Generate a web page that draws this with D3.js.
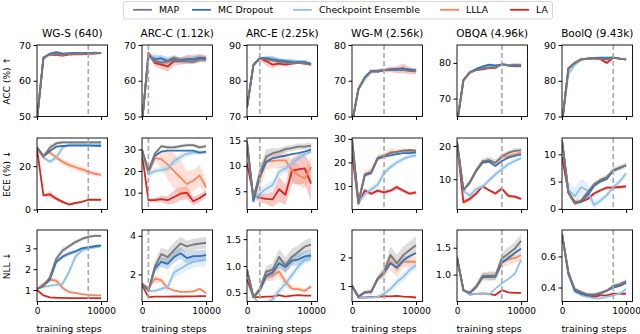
<!DOCTYPE html>
<html>
<head>
<meta charset="utf-8">
<script src="https://cdn.jsdelivr.net/npm/d3@7"></script>
<style>
  body { margin: 0; background: #fff; }
  svg text { font-family: "DejaVu Sans", sans-serif; fill: #000; }
</style>
</head>
<body>
<svg id="chart" width="640" height="334"></svg>
<script>
// steps on the x axis, shared by every panel
var STEPS = [0, 1000, 2000, 3000, 4000, 5000, 6000, 7000, 8000, 9000, 10000];
var TITLES = ["WG-S (640)", "ARC-C (1.12k)", "ARC-E (2.25k)", "WG-M (2.56k)", "OBQA (4.96k)", "BoolQ (9.43k)"];
var DASH_AT = [8000, 1000, 2000, 5000, 7000, 8000];
var METHODS = ["MAP", "MC Dropout", "Checkpoint Ensemble", "LLLA", "LA"];
var ROW_LABELS = ["ACC (%) \u2191", "ECE (%) \u2193", "NLL \u2193"];

var YLIM_ACC = [[50, 70], [50, 70], [70, 90], [60, 80], [65, 85], [70, 90]];
var YLIM_ECE = [[0, 33], [2.2, 35.3], [1.4, 15.5], [0, 30.4], [0.9, 22.4], [-0.13, 13]];
var YLIM_NLL = [[0.45, 3.88], [0.6, 4.3], [0.34, 1.67], [0.46, 2.96], [0.5, 1.83], [0.31, 0.77]];
var YTICKS_ACC = [[50, 60, 70], [50, 60, 70], [70, 80, 90], [60, 70, 80], [70, 80], [70, 80, 90]];
var YTICKS_ECE = [[0, 20], [10, 20, 30], [5, 10, 15], [10, 20, 30], [10, 20], [0, 5, 10]];
var YTICKS_NLL = [["1", "2", "3"], ["2", "4"], ["0.5", "1.0", "1.5"], ["1", "2"], ["1.0", "1.5"], ["0.4", "0.6"]];

// each panel: [MAP, MC Dropout, Checkpoint Ensemble, LLLA, LA]
var ACC_WGS = [
  [49, 66.5, 67.5, 67.5, 67.3, 67.5, 67.6, 67.6, 67.7, 67.8, 67.8],
  [49, 66.3, 67.6, 68.0, 67.6, 67.7, 67.8, 67.7, 67.8, 67.8, 67.7],
  [49, 66.0, 67.5, 67.8, 67.5, 67.6, 67.7, 67.7, 67.8, 67.9, 67.8],
  [49, 66.5, 67.5, 67.4, 67.3, 67.5, 67.6, 67.6, 67.7, 67.8, 67.8],
  [49, 66.5, 67.3, 67.2, 67.0, 67.3, 67.4, 67.4, 67.5, 67.6, 67.7]
];
var ACC_ARCC = [
  [48, 67.3, 65.5, 65.0, 65.5, 66.5, 65.5, 65.5, 65.3, 66.0, 66.0],
  [48, 67.0, 66.0, 66.3, 65.5, 66.0, 65.8, 66.0, 66.0, 66.5, 66.0],
  [48, 66.5, 66.5, 65.5, 66.0, 65.8, 66.0, 65.5, 66.0, 66.0, 66.2],
  [48, 67.3, 65.5, 65.0, 65.3, 66.3, 65.5, 65.5, 65.5, 66.0, 66.0],
  [48, 67.8, 65.0, 64.5, 64.0, 65.5, 65.5, 66.0, 66.0, 66.3, 66.3]
];
var ACC_ARCE = [
  [72.5, 84.4, 86.3, 86.0, 85.7, 85.3, 85.0, 85.0, 85.0, 85.0, 84.5],
  [72.5, 84.5, 86.4, 86.3, 86.0, 85.7, 85.5, 85.3, 85.2, 85.2, 84.7],
  [72.5, 84.2, 86.2, 86.5, 86.5, 86.0, 85.8, 85.7, 85.5, 85.5, 84.8],
  [72.5, 84.4, 86.3, 86.0, 85.6, 85.2, 85.0, 85.0, 85.0, 85.0, 84.5],
  [72.5, 84.4, 86.3, 85.5, 84.5, 84.8, 84.5, 84.8, 85.0, 84.8, 84.5]
];
var ACC_WGM = [
  [58, 67.7, 70.8, 72.7, 72.5, 73.0, 73.0, 73.0, 73.0, 72.8, 72.8],
  [58, 67.7, 71.0, 72.8, 72.6, 73.0, 73.2, 73.4, 73.4, 73.2, 73.0],
  [58, 67.5, 70.5, 72.5, 72.8, 73.0, 73.0, 73.0, 73.2, 73.0, 73.0],
  [58, 67.7, 70.8, 72.6, 72.6, 73.0, 73.0, 73.1, 73.2, 72.9, 72.8],
  [58, 67.7, 70.8, 72.5, 72.8, 73.0, 73.2, 73.0, 73.5, 72.8, 72.6]
];
var ACC_OBQA = [
  [63, 75.2, 77.3, 78.0, 78.5, 78.7, 78.8, 79.6, 79.2, 79.0, 79.0],
  [63, 75.2, 77.4, 78.3, 79.0, 79.5, 79.3, 79.5, 79.3, 79.3, 79.2],
  [63, 75.0, 77.3, 78.2, 78.8, 79.2, 79.2, 79.4, 79.4, 79.3, 79.3],
  [63, 75.2, 77.3, 78.0, 78.5, 78.7, 78.8, 79.6, 79.3, 79.2, 79.2],
  [63, 75.0, 77.2, 78.0, 78.2, 78.5, 78.6, 79.7, 79.4, 79.5, 79.5]
];
var ACC_BOOLQ = [
  [68, 83.5, 85.0, 86.0, 86.2, 86.3, 86.2, 86.0, 86.5, 86.2, 86.0],
  [68, 83.3, 85.0, 86.0, 86.2, 86.4, 86.4, 86.3, 86.5, 86.2, 86.0],
  [68, 82.0, 84.5, 85.8, 86.2, 86.4, 86.5, 86.5, 86.5, 86.2, 86.0],
  [68, 83.5, 85.0, 86.0, 86.2, 86.3, 86.2, 86.0, 86.5, 86.2, 86.0],
  [68, 83.5, 85.0, 86.0, 86.2, 86.3, 86.0, 85.0, 86.5, 86.2, 86.0]
];

var ECE_WGS = [
  [28.7, 24.3, 28.5, 30.5, 31.0, 31.0, 31.0, 31.0, 31.0, 31.0, 31.0],
  [28.7, 24.5, 27.0, 29.0, 29.3, 29.5, 29.5, 29.5, 29.5, 29.4, 29.3],
  [28.7, 24.0, 22.0, 24.0, 28.5, 30.0, 30.0, 30.0, 30.0, 30.0, 30.0],
  [28.7, 25.0, 26.3, 24.0, 22.0, 20.5, 19.5, 18.5, 17.5, 16.5, 16.0],
  [28.0, 6.5, 7.0, 5.0, 3.5, 2.3, 3.0, 3.5, 4.5, 4.5, 4.5]
];
var ECE_ARCC = [
  [30, 20.0, 28.0, 31.5, 31.0, 31.0, 31.5, 32.0, 32.0, 31.0, 31.5],
  [30, 20.0, 27.0, 29.0, 29.5, 29.5, 29.5, 29.5, 29.5, 28.5, 29.0],
  [29, 18.5, 20.0, 20.5, 21.0, 24.5, 26.5, 28.0, 28.5, 28.5, 28.5],
  [29, 19.0, 26.0, 25.5, 23.0, 20.0, 17.0, 14.0, 15.5, 18.0, 12.5],
  [28, 6.5, 6.5, 7.0, 6.5, 8.0, 9.5, 10.0, 6.0, 7.5, 9.5]
];
var ECE_ARCE = [
  [14.8, 3.8, 8.5, 11.8, 12.5, 12.8, 13.3, 13.5, 13.8, 13.8, 14.0],
  [14.8, 3.0, 8.0, 10.8, 11.5, 11.8, 12.0, 12.3, 12.5, 12.8, 13.2],
  [14.5, 3.5, 4.5, 5.5, 6.2, 8.8, 9.5, 10.5, 11.5, 12.3, 12.8],
  [14.5, 3.5, 7.5, 10.8, 11.0, 11.1, 11.1, 9.1, 8.2, 7.5, 9.8],
  [10.5, 4.3, 3.7, 3.5, 3.4, 5.4, 4.3, 9.0, 9.3, 9.5, 6.5]
];
var ECE_WGM = [
  [30, 3.0, 15.0, 16.0, 22.0, 23.0, 24.0, 24.5, 25.0, 25.3, 25.0],
  [30, 3.0, 14.5, 15.5, 21.5, 22.5, 23.0, 23.5, 24.0, 24.0, 24.3],
  [30, 3.0, 6.5, 8.5, 10.5, 15.5, 18.0, 20.0, 21.5, 22.5, 23.0],
  [30, 3.0, 15.0, 16.0, 22.0, 22.5, 24.5, 24.5, 25.0, 24.5, 24.5],
  [24, 2.4, 8.1, 6.7, 8.0, 7.3, 8.0, 9.5, 8.0, 6.7, 7.3]
];
var ECE_OBQA = [
  [21.3, 6.7, 9.2, 12.7, 15.4, 15.8, 14.9, 16.9, 17.9, 18.5, 18.7],
  [21.3, 6.7, 9.0, 12.5, 15.0, 15.3, 14.0, 15.5, 16.5, 17.0, 17.5],
  [21.3, 6.5, 5.1, 7.0, 7.7, 9.7, 11.5, 13.0, 14.5, 15.5, 16.4],
  [21.3, 6.7, 9.0, 12.5, 15.5, 15.5, 15.0, 16.5, 17.0, 17.5, 18.0],
  [20.8, 3.1, 4.1, 5.7, 7.9, 6.7, 5.7, 7.2, 5.0, 4.8, 4.1]
];
var ECE_BOOLQ = [
  [12.6, 3.0, 1.0, 1.5, 3.0, 4.5, 5.3, 5.8, 7.1, 7.5, 8.0],
  [12.6, 3.0, 1.0, 1.3, 2.5, 4.2, 5.0, 5.5, 7.0, 7.5, 8.0],
  [12.6, 3.5, 2.3, 4.0, 3.3, 0.7, 1.5, 2.5, 4.0, 5.0, 6.5],
  [12.6, 3.0, 1.0, 1.5, 3.0, 4.5, 5.3, 5.8, 7.0, 7.5, 8.0],
  [9.5, 3.0, 1.2, 1.3, 1.8, 2.8, 3.4, 3.9, 3.9, 4.0, 4.1]
];

var NLL_WGS = [
  [1.05, 1.2, 1.6, 2.5, 2.9, 3.1, 3.3, 3.45, 3.55, 3.6, 3.6],
  [1.05, 1.2, 1.5, 2.35, 2.6, 2.75, 2.85, 3.0, 3.05, 3.1, 3.14],
  [1.05, 1.15, 1.2, 1.25, 1.3, 1.87, 2.6, 2.9, 3.0, 3.05, 3.1],
  [1.05, 1.3, 1.5, 1.45, 1.1, 0.9, 0.86, 0.8, 0.77, 0.75, 0.74],
  [1.0, 0.74, 0.65, 0.63, 0.62, 0.61, 0.61, 0.61, 0.61, 0.61, 0.61]
];
var NLL_ARCC = [
  [1.52, 1.16, 2.4, 3.05, 2.9, 3.26, 3.6, 3.45, 3.55, 3.6, 3.64],
  [1.52, 1.16, 2.3, 2.65, 2.55, 2.9, 3.1, 2.85, 2.95, 2.95, 3.0],
  [1.52, 1.15, 1.15, 1.25, 1.35, 2.1, 2.3, 2.5, 2.65, 2.7, 2.75],
  [1.52, 1.3, 1.78, 1.7, 1.3, 1.17, 1.1, 1.1, 1.12, 1.26, 1.03],
  [1.45, 0.83, 0.85, 0.85, 0.85, 0.86, 0.86, 0.87, 0.87, 0.88, 0.88]
];
var NLL_ARCE = [
  [0.93, 0.42, 0.58, 0.9, 0.93, 1.17, 1.01, 1.17, 1.26, 1.36, 1.4],
  [0.93, 0.42, 0.55, 0.82, 0.88, 1.05, 0.98, 1.1, 1.12, 1.18, 1.2],
  [0.93, 0.42, 0.3, 0.3, 0.38, 0.54, 0.67, 0.83, 0.99, 1.11, 1.18],
  [0.93, 0.42, 0.55, 0.8, 0.82, 0.9, 0.7, 0.58, 0.57, 0.54, 0.62],
  [0.75, 0.42, 0.42, 0.43, 0.43, 0.46, 0.43, 0.45, 0.46, 0.45, 0.45]
];
var NLL_WGM = [
  [1.02, 0.63, 0.79, 0.8, 1.26, 1.49, 2.08, 1.79, 2.08, 2.26, 2.43],
  [1.02, 0.63, 0.77, 0.8, 1.24, 1.45, 1.8, 1.65, 1.9, 2.05, 2.15],
  [1.02, 0.62, 0.6, 0.6, 0.62, 0.73, 0.9, 1.14, 1.32, 1.56, 1.73],
  [1.02, 0.63, 0.79, 0.8, 1.26, 1.49, 1.85, 1.62, 1.85, 1.85, 1.85],
  [1.0, 0.6, 0.6, 0.62, 0.62, 0.65, 0.64, 0.66, 0.63, 0.62, 0.6]
];
var NLL_OBQA = [
  [1.33, 0.71, 0.66, 0.78, 0.98, 0.98, 0.98, 1.3, 1.39, 1.48, 1.63],
  [1.33, 0.71, 0.66, 0.77, 0.95, 0.96, 0.96, 1.22, 1.31, 1.4, 1.48],
  [1.33, 0.71, 0.63, 0.64, 0.65, 0.63, 0.74, 0.84, 0.92, 1.01, 1.28],
  [1.33, 0.71, 0.66, 0.77, 0.96, 0.96, 0.97, 1.22, 1.28, 1.31, 1.36],
  [1.3, 0.72, 0.63, 0.64, 0.65, 0.64, 0.62, 0.71, 0.67, 0.66, 0.66]
];
var NLL_BOOLQ = [
  [0.745, 0.49, 0.39, 0.37, 0.355, 0.355, 0.365, 0.38, 0.41, 0.42, 0.44],
  [0.745, 0.49, 0.38, 0.36, 0.35, 0.35, 0.36, 0.38, 0.4, 0.41, 0.43],
  [0.745, 0.48, 0.37, 0.35, 0.34, 0.33, 0.33, 0.34, 0.35, 0.36, 0.39],
  [0.745, 0.49, 0.39, 0.37, 0.355, 0.35, 0.365, 0.38, 0.405, 0.42, 0.44],
  [0.745, 0.5, 0.38, 0.36, 0.34, 0.34, 0.35, 0.35, 0.36, 0.36, 0.36]
];

// std bands, only where they show; null = no band
var ACC_ARCC_SD = [
  [0, 0.5, 0.8, 0.8, 0.8, 0.8, 0.7, 0.7, 0.7, 0.7, 0.7],
  [0, 0.5, 1.0, 1.0, 0.8, 0.8, 0.8, 0.8, 0.8, 0.8, 0.8],
  [0, 0.8, 1.2, 1.2, 1.0, 1.0, 0.8, 0.8, 0.8, 0.8, 0.8],
  null,
  [0, 0.5, 1.0, 1.2, 1.5, 1.2, 1.0, 1.3, 1.2, 1.2, 0.8]
];
var ACC_ARCE_SD = [
  null, null,
  [0, 0.5, 0.5, 0.5, 0.6, 0.5, 0.4, 0.4, 0.4, 0.4, 0.4],
  null,
  [0, 0.3, 0.5, 1.2, 1.0, 0.5, 0.4, 0.4, 0.3, 0.3, 0.3]
];
var ACC_WGM_SD = [
  null, null,
  [0, 0.6, 0.8, 0.6, 0.5, 0.4, 0.4, 0.4, 0.4, 0.4, 0.4],
  null,
  [0, 0.5, 0.5, 0.5, 0.5, 0.6, 0.8, 1.0, 1.3, 1.0, 0.8]
];
var ACC_BOOLQ_SD = [
  null, null,
  [0, 1.5, 0.6, 0.3, 0.3, 0.3, 0.3, 0.3, 0.3, 0.3, 0.3],
  null,
  [0, 0.3, 0.3, 0.3, 0.3, 0.3, 0.3, 0.5, 0.3, 0.3, 0.3]
];
var ECE_WGS_SD = [
  [0, 1.0, 1.5, 1.0, 0.7, 0.6, 0.6, 0.6, 0.6, 0.6, 0.6],
  null,
  [0, 1.0, 1.0, 1.5, 1.0, 0.5, 0.5, 0.5, 0.5, 0.5, 0.5],
  [0, 0.7, 0.8, 1.0, 1.5, 1.5, 1.5, 1.5, 1.3, 1.2, 1.0],
  [0, 0.5, 1.5, 1.0, 0.8, 0.5, 0.5, 0.4, 0.4, 0.4, 0.4]
];
var ECE_ARCC_SD = [
  [0, 1.5, 1.0, 0.8, 0.8, 0.8, 0.8, 0.8, 0.8, 0.8, 0.8],
  null,
  [0, 2.0, 1.5, 1.5, 1.5, 2.0, 2.0, 1.5, 1.0, 1.0, 1.0],
  [0, 1.0, 2.0, 4.0, 7.0, 8.0, 8.0, 6.0, 5.0, 5.0, 3.0],
  [0, 1.0, 1.0, 1.5, 2.0, 3.0, 3.0, 3.0, 2.0, 2.0, 1.5]
];
var ECE_ARCE_SD = [
  [0, 0.5, 1.5, 1.5, 1.0, 0.7, 0.6, 0.6, 0.6, 0.6, 0.6],
  null,
  [0, 0.8, 1.0, 1.0, 1.0, 1.0, 0.8, 0.8, 0.5, 0.5, 0.5],
  [0, 0.5, 2.0, 1.5, 1.5, 1.5, 2.0, 2.0, 2.0, 2.0, 2.0],
  [0, 0.5, 0.8, 1.0, 1.5, 2.5, 2.0, 2.5, 3.0, 3.0, 3.5]
];
var ECE_WGM_SD = [
  null, null,
  [0, 0.8, 1.5, 1.5, 1.5, 1.5, 1.5, 1.2, 1.0, 1.0, 1.0],
  [0, 0.5, 1.5, 1.5, 1.5, 1.5, 1.5, 1.2, 1.2, 1.0, 1.0],
  [0, 0.5, 0.8, 0.8, 0.8, 0.8, 0.8, 1.0, 0.8, 0.8, 0.8]
];
var ECE_OBQA_SD = [
  [0, 0.5, 0.8, 0.8, 0.8, 1.0, 1.0, 0.8, 0.8, 0.8, 0.8],
  null,
  [0, 0.8, 1.0, 1.0, 0.8, 0.8, 0.8, 0.8, 0.8, 0.8, 0.8],
  null,
  [0, 0.8, 0.8, 0.5, 0.4, 0.4, 0.5, 0.5, 0.5, 0.5, 0.5]
];
var ECE_BOOLQ_SD = [
  [0, 0.5, 0.5, 0.5, 0.5, 0.4, 0.4, 0.5, 0.5, 0.5, 0.5],
  null,
  [0, 1.5, 1.5, 1.5, 1.5, 0.8, 0.6, 0.5, 0.5, 0.5, 0.5],
  null,
  [0, 0.3, 0.3, 0.3, 0.3, 0.3, 0.3, 0.3, 0.3, 0.3, 0.3]
];
var NLL_WGS_SD = [
  [0, 0.05, 0.1, 0.15, 0.15, 0.1, 0.1, 0.08, 0.08, 0.06, 0.06],
  [0, 0.05, 0.1, 0.1, 0.1, 0.1, 0.08, 0.08, 0.06, 0.06, 0.06],
  [0, 0.02, 0.05, 0.05, 0.1, 0.2, 0.15, 0.1, 0.08, 0.06, 0.06],
  [0, 0.05, 0.1, 0.12, 0.1, 0.05, 0.04, 0.04, 0.04, 0.04, 0.04],
  null
];
var NLL_ARCC_SD = [
  [0, 0.1, 0.3, 0.35, 0.35, 0.4, 0.35, 0.3, 0.3, 0.3, 0.3],
  [0, 0.1, 0.2, 0.25, 0.3, 0.3, 0.3, 0.3, 0.3, 0.3, 0.3],
  [0, 0.05, 0.1, 0.1, 0.2, 0.3, 0.3, 0.3, 0.3, 0.3, 0.3],
  [0, 0.1, 0.2, 0.15, 0.1, 0.05, 0.05, 0.05, 0.05, 0.05, 0.05],
  null
];
var NLL_ARCE_SD = [
  [0, 0.02, 0.05, 0.1, 0.12, 0.15, 0.15, 0.15, 0.12, 0.12, 0.12],
  [0, 0.02, 0.05, 0.08, 0.1, 0.1, 0.1, 0.1, 0.1, 0.1, 0.1],
  [0, 0.02, 0.05, 0.08, 0.08, 0.08, 0.08, 0.08, 0.08, 0.08, 0.08],
  [0, 0.02, 0.05, 0.08, 0.1, 0.1, 0.08, 0.05, 0.04, 0.04, 0.04],
  null
];
var NLL_WGM_SD = [
  [0, 0.05, 0.05, 0.1, 0.1, 0.15, 0.3, 0.3, 0.3, 0.3, 0.3],
  null,
  [0, 0.02, 0.03, 0.05, 0.08, 0.1, 0.12, 0.15, 0.15, 0.15, 0.15],
  [0, 0.05, 0.05, 0.1, 0.1, 0.2, 0.3, 0.3, 0.2, 0.2, 0.2],
  null
];
var NLL_OBQA_SD = [
  [0, 0.02, 0.03, 0.05, 0.07, 0.08, 0.08, 0.1, 0.12, 0.12, 0.12],
  null, null,
  [0, 0.02, 0.03, 0.05, 0.07, 0.08, 0.08, 0.1, 0.1, 0.1, 0.1],
  null
];
var NLL_BOOLQ_SD = [
  [0, 0.02, 0.01, 0.01, 0.01, 0.01, 0.01, 0.01, 0.015, 0.015, 0.015],
  null, null, null, null
];

var COLORS = ["#777777", "#3171b8", "#8fc1e6", "#f9875a", "#d8261f"];

var ROWS = [
  { label: ROW_LABELS[0], ylim: YLIM_ACC, ticks: YTICKS_ACC,
    data: [ACC_WGS, ACC_ARCC, ACC_ARCE, ACC_WGM, ACC_OBQA, ACC_BOOLQ],
    sd: [null, ACC_ARCC_SD, ACC_ARCE_SD, ACC_WGM_SD, null, ACC_BOOLQ_SD] },
  { label: ROW_LABELS[1], ylim: YLIM_ECE, ticks: YTICKS_ECE,
    data: [ECE_WGS, ECE_ARCC, ECE_ARCE, ECE_WGM, ECE_OBQA, ECE_BOOLQ],
    sd: [ECE_WGS_SD, ECE_ARCC_SD, ECE_ARCE_SD, ECE_WGM_SD, ECE_OBQA_SD, ECE_BOOLQ_SD] },
  { label: ROW_LABELS[2], ylim: YLIM_NLL, ticks: YTICKS_NLL,
    data: [NLL_WGS, NLL_ARCC, NLL_ARCE, NLL_WGM, NLL_OBQA, NLL_BOOLQ],
    sd: [NLL_WGS_SD, NLL_ARCC_SD, NLL_ARCE_SD, NLL_WGM_SD, NLL_OBQA_SD, NLL_BOOLQ_SD] }
];

var svg = d3.select("#chart");
var panelW = 70.5, panelH = 71.5;
var lefts = [37, 142, 247, 352, 457, 562];
var tops = [45, 138, 230];

var x = d3.scaleLinear().domain([0, 11000]).range([0, panelW]);

var defs = svg.append("defs");
defs.append("clipPath").attr("id", "clip")
  .append("rect").attr("width", panelW).attr("height", panelH);

ROWS.forEach(function (row, r) {
  svg.append("text")
    .attr("transform", "translate(9.5," + (tops[r] + panelH / 2) + ") rotate(-90)")
    .attr("text-anchor", "middle")
    .style("font-size", "9px")
    .text(row.label);

  for (var c = 0; c < 6; c++) {
    var g = svg.append("g").attr("transform", "translate(" + lefts[c] + "," + tops[r] + ")");
    var y = d3.scaleLinear().domain(row.ylim[c]).range([panelH, 0]);
    var series = row.data[c];
    var sds = row.sd[c];

    var plot = g.append("g").attr("clip-path", "url(#clip)");

    // bands under lines
    for (var s = 4; s >= 0; s--) {
      if (!sds || !sds[s]) continue;
      var mean = series[s], sd = sds[s];
      var area = d3.area()
        .x(function (d, i) { return x(STEPS[i]); })
        .y0(function (d, i) { return y(mean[i] - sd[i]); })
        .y1(function (d, i) { return y(mean[i] + sd[i]); });
      plot.append("path")
        .attr("d", area(mean))
        .attr("fill", COLORS[s])
        .attr("opacity", 0.25);
    }

    for (var s2 = 4; s2 >= 0; s2--) {
      var line = d3.line()
        .x(function (d, i) { return x(STEPS[i]); })
        .y(function (d) { return y(d); });
      plot.append("path")
        .attr("d", line(series[s2]))
        .attr("fill", "none")
        .attr("stroke", COLORS[s2])
        .attr("stroke-width", 1.8)
        .attr("stroke-linejoin", "round");
    }

    g.append("line")
      .attr("x1", x(DASH_AT[c])).attr("x2", x(DASH_AT[c]))
      .attr("y1", 0).attr("y2", panelH)
      .attr("stroke", "#a8a8a8")
      .attr("stroke-width", 1.6)
      .attr("stroke-dasharray", "5,3");

    // axes
    var yt = row.ticks[c];
    var yAxis = d3.axisLeft(y)
      .tickValues(yt.map(Number))
      .tickFormat(function (d, i) { return String(yt[i]); })
      .tickSize(3.5).tickPadding(2.5);
    var ya = g.append("g").call(yAxis);
    ya.select(".domain").remove();
    ya.selectAll("text").style("font-size", "9.5px").style("font-family", "DejaVu Sans");

    var xAxis = d3.axisBottom(x).tickValues([0, 10000]).tickSize(3.5).tickPadding(3)
      .tickFormat(d3.format("d"));
    if (r < 2) xAxis.tickFormat("");
    var xa = g.append("g").attr("transform", "translate(0," + panelH + ")").call(xAxis);
    xa.select(".domain").remove();
    xa.selectAll("text").style("font-size", "9px").style("font-family", "DejaVu Sans");

    g.append("rect")
      .attr("width", panelW).attr("height", panelH)
      .attr("fill", "none").attr("stroke", "#000").attr("stroke-width", 0.9);

    if (r === 0) {
      g.append("text")
        .attr("x", panelW / 2).attr("y", -8.5)
        .attr("text-anchor", "middle")
        .style("font-size", "10.5px")
        .text(TITLES[c]);
    }
    if (r === 2) {
      g.append("text")
        .attr("x", x(5000)).attr("y", panelH + 30)
        .attr("text-anchor", "middle")
        .style("font-size", "9.5px")
        .text("training steps");
    }
  }
});

// legend
var legend = svg.append("g");
legend.append("rect")
  .attr("x", 123.5).attr("y", 1.5).attr("width", 429).attr("height", 17.5)
  .attr("rx", 2).attr("fill", "#fff").attr("stroke", "#cccccc").attr("stroke-width", 0.8);
var legX = [133, 192, 293, 440, 510];
METHODS.forEach(function (m, i) {
  legend.append("line")
    .attr("x1", legX[i]).attr("x2", legX[i] + 19)
    .attr("y1", 9.8).attr("y2", 9.8)
    .attr("stroke", COLORS[i]).attr("stroke-width", 1.8);
  legend.append("text")
    .attr("x", legX[i] + 26).attr("y", 13.2)
    .style("font-size", "9.3px")
    .text(m);
});
</script>
</body>
</html>
